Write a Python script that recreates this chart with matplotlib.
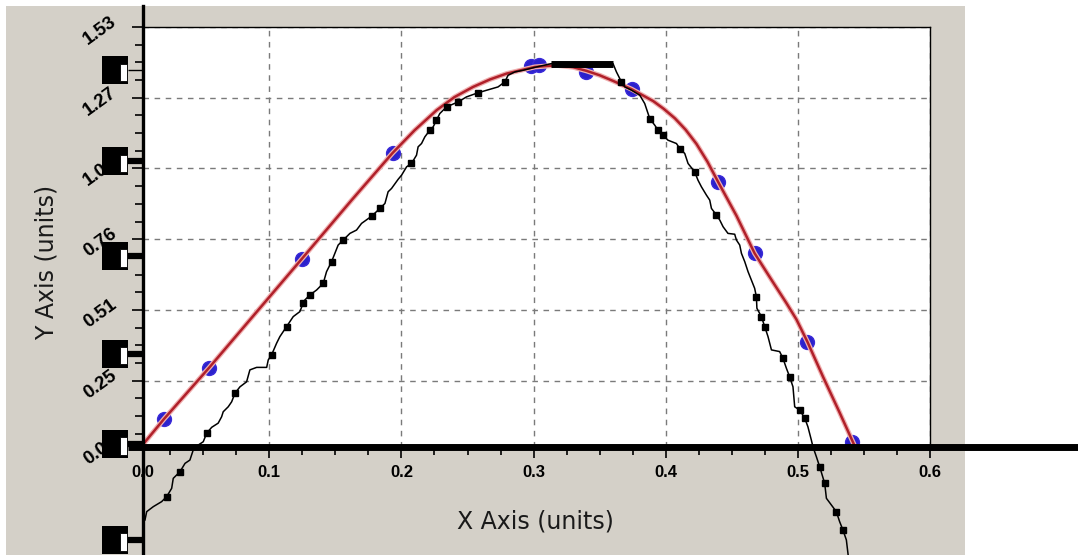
import matplotlib
matplotlib.use("Agg")
import matplotlib.pyplot as plt
import matplotlib.transforms as mtransforms
from matplotlib.patches import Rectangle

# ---------------- data ----------------
x_ticks = [0.0, 0.1, 0.2, 0.3, 0.4, 0.5, 0.6]
x_tick_labels = ["0.0", "0.1", "0.2", "0.3", "0.4", "0.5", "0.6"]
y_ticks = [0.0, 0.255, 0.51, 0.765, 1.02, 1.275, 1.53]
y_tick_labels = ["0.00", "0.25", "0.51", "0.76", "1.02", "1.27", "1.53"]

# smooth fitted curve (red)
fit_x = [0.0, 0.0203, 0.0543, 0.1244, 0.1623, 0.1933, 0.2100, 0.2266, 0.2400, 0.2542,
         0.2670, 0.2795, 0.3009, 0.3173, 0.3300, 0.3400, 0.3500, 0.3600, 0.3741, 0.3905,
         0.3985, 0.4069, 0.4150, 0.4232, 0.4315, 0.4396, 0.4535, 0.4673, 0.4809, 0.4913,
         0.4989, 0.5072, 0.5190, 0.5316, 0.5425]
fit_y = [0.0, 0.117, 0.301, 0.693, 0.906, 1.076, 1.158, 1.230, 1.277, 1.314,
         1.341, 1.362, 1.386, 1.392, 1.385, 1.372, 1.356, 1.336, 1.306, 1.263,
         1.235, 1.201, 1.160, 1.109, 1.045, 0.972, 0.850, 0.714, 0.612, 0.535,
         0.476, 0.3955, 0.2695, 0.140, 0.025]

# sample points (blue)
sample_x = [0.0203, 0.0543, 0.1244, 0.1933, 0.2980, 0.3040, 0.3393, 0.3741,
            0.4396, 0.4673, 0.5072, 0.5412]
sample_y = [0.117, 0.301, 0.693, 1.076, 1.390, 1.392, 1.368, 1.308,
            0.972, 0.714, 0.3955, 0.035]

# measured trace (black)
trace_x = [0.0059, 0.0072, 0.0122, 0.0185, 0.0223, 0.0261, 0.0273, 0.0324, 0.0362, 0.0399,
           0.0424, 0.0462, 0.0500, 0.0526, 0.0564, 0.0613, 0.0639, 0.0651, 0.0689, 0.0715,
           0.0740, 0.0778, 0.0828, 0.0853, 0.0904, 0.0980, 0.0992, 0.1017, 0.1055, 0.1080,
           0.1131, 0.1181, 0.1231, 0.1256, 0.1269, 0.1307, 0.1358, 0.1408, 0.1433, 0.1471,
           0.1496, 0.1521, 0.1559, 0.1610, 0.1660, 0.1698, 0.1774, 0.1837, 0.1875, 0.1899,
           0.1925, 0.1975, 0.2001, 0.2039, 0.2076, 0.2114, 0.2126, 0.2152, 0.2177, 0.2215,
           0.2240, 0.2265, 0.2290, 0.2341, 0.2429, 0.2492, 0.2580, 0.2644, 0.2731, 0.2782,
           0.2807, 0.2858, 0.2921, 0.3022, 0.3135, 0.3601, 0.3627, 0.3665, 0.3690, 0.3741,
           0.3804, 0.3841, 0.3879, 0.3917, 0.3942, 0.3980, 0.4017, 0.4081, 0.4106, 0.4144,
           0.4169, 0.4219, 0.4244, 0.4270, 0.4308, 0.4333, 0.4346, 0.4384, 0.4409, 0.4434,
           0.4471, 0.4522, 0.4535, 0.4560, 0.4573, 0.4598, 0.4623, 0.4648, 0.4673, 0.4686,
           0.4690, 0.4724, 0.4749, 0.4774, 0.4800, 0.4862, 0.4887, 0.4913, 0.4938, 0.4963,
           0.4976, 0.5014, 0.5052, 0.5076, 0.5102, 0.5114, 0.5140, 0.5165, 0.5203, 0.5216,
           0.5253, 0.5291, 0.5316, 0.5341, 0.5367, 0.5379, 0.5392]
trace_y = [-0.247, -0.217, -0.199, -0.181, -0.163, -0.133, -0.097, -0.073, -0.043, -0.031,
           0.005, 0.023, 0.035, 0.066, 0.087, 0.102, 0.125, 0.143, 0.161, 0.179,
           0.210, 0.233, 0.251, 0.294, 0.303, 0.303, 0.330, 0.348, 0.390, 0.414,
           0.450, 0.486, 0.504, 0.534, 0.546, 0.564, 0.582, 0.606, 0.648, 0.684,
           0.714, 0.744, 0.762, 0.786, 0.798, 0.822, 0.848, 0.876, 0.894, 0.936,
           0.948, 0.981, 0.996, 1.026, 1.038, 1.068, 1.098, 1.110, 1.134, 1.158,
           1.170, 1.194, 1.218, 1.242, 1.260, 1.278, 1.293, 1.302, 1.314, 1.332,
           1.356, 1.368, 1.374, 1.386, 1.398, 1.398, 1.368, 1.332, 1.314, 1.302,
           1.284, 1.254, 1.200, 1.176, 1.158, 1.140, 1.122, 1.110, 1.092, 1.074,
           1.038, 1.008, 0.978, 0.954, 0.924, 0.906, 0.876, 0.852, 0.834, 0.810,
           0.786, 0.783, 0.762, 0.744, 0.714, 0.684, 0.648, 0.618, 0.588, 0.558,
           0.516, 0.486, 0.450, 0.414, 0.366, 0.360, 0.336, 0.300, 0.269, 0.233,
           0.161, 0.149, 0.120, 0.089, 0.041, 0.017, -0.019, -0.055, -0.115, -0.169,
           -0.193, -0.217, -0.253, -0.283, -0.319, -0.367, -0.420]

# square markers on the trace
trace_mk_x = [0.0223, 0.0324, 0.0526, 0.0740, 0.1017, 0.1131, 0.1256, 0.1307, 0.1408,
              0.1471, 0.1559, 0.1774, 0.1837, 0.2076, 0.2215, 0.2265, 0.2341, 0.2429,
              0.2580, 0.2782, 0.3665, 0.3879, 0.3942, 0.3980, 0.4106, 0.4219, 0.4384,
              0.4686, 0.4724, 0.4749, 0.4887, 0.4938, 0.5014, 0.5052, 0.5165, 0.5203,
              0.5291, 0.5341]
trace_mk_y = [-0.163, -0.073, 0.066, 0.210, 0.348, 0.450, 0.534, 0.564, 0.606,
              0.684, 0.762, 0.848, 0.876, 1.038, 1.158, 1.194, 1.242, 1.260,
              1.293, 1.332, 1.332, 1.200, 1.158, 1.140, 1.092, 1.008, 0.852,
              0.558, 0.486, 0.450, 0.336, 0.269, 0.149, 0.120, -0.055, -0.115,
              -0.217, -0.283]

# flat plateau of the trace
plateau_x = [0.3135, 0.3601]
plateau_y = [1.398, 1.398]

# secondary (garbled) tick glyphs on the left of the Y axis
aux_tick_y = [1.374, 1.046, 0.704, 0.353, 0.027, -0.319]

# ---------------- styling ----------------
W, H = 1078, 555
GRAY = "#d4d0c8"
X_LO, X_HI = 0.0044, 0.6
Y_LO, Y_HI = 0.016, 1.53
FONT = "Liberation Sans"

fig = plt.figure(figsize=(W / 100, H / 100), dpi=100, facecolor="white")
fig.patches.append(Rectangle((6 / W, 0), (965 - 6) / W, (H - 6) / H,
                             transform=fig.transFigure, facecolor=GRAY,
                             edgecolor="none", zorder=-10))

ax = fig.add_axes([143 / W, 1 - 447 / H, 787 / W, 420 / H])
ax.set_facecolor("white")
ax.set_xlim(X_LO, X_HI)
ax.set_ylim(Y_LO, Y_HI)

for s in ("left", "bottom"):
    ax.spines[s].set_visible(False)
for s in ("top", "right"):
    ax.spines[s].set_linewidth(1.0)
    ax.spines[s].set_color("black")

xt = [max(t, X_LO) for t in x_ticks]
yt = [max(t, Y_LO) for t in y_ticks]
ax.set_xticks(xt)
ax.set_xticklabels(x_tick_labels, fontfamily=FONT, fontweight="bold", fontsize=12)
ax.set_yticks(yt)
ax.set_yticklabels([])
ax.set_xticks([t for t in [i * 0.025 for i in range(25)] if t > X_LO], minor=True)
ax.set_yticks([i * 0.06375 for i in range(1, 24)], minor=True)

ax.tick_params(axis="x", which="major", direction="out", length=8, width=1.2, pad=5)
ax.tick_params(axis="x", which="minor", direction="out", length=6, width=1.2)
ax.tick_params(axis="y", which="major", direction="out", length=8, width=1.2)
ax.tick_params(axis="y", which="minor", direction="out", length=6, width=1.2)

blend = mtransforms.blended_transform_factory(ax.transAxes, ax.transData)
shift = mtransforms.ScaledTranslation(0, -3.5 / 100, fig.dpi_scale_trans)
for yv, lab in zip(yt, y_tick_labels):
    ax.text(-0.0546, yv, lab, transform=blend + shift, rotation=36,
            ha="center", va="center", fontfamily=FONT, fontweight="bold",
            fontsize=13.5, clip_on=False, zorder=6.5)

ax.grid(True, which="major", linestyle=(0, (4, 4)), color="#7a7a7a", linewidth=1.0)
ax.set_axisbelow(True)

# blue samples below the red fitted curve (with soft halo)
ax.plot(sample_x, sample_y, linestyle="none", marker="o", markersize=10,
        markerfacecolor="#2b22cc", markeredgecolor="#3a2ad8", zorder=3)
ax.plot(fit_x, fit_y, color="#f0b0b0", linewidth=3.6, zorder=4, solid_capstyle="round")
ax.plot(fit_x, fit_y, color="#b0202a", linewidth=1.8, zorder=4.1)

# black trace
ax.plot(trace_x, trace_y, color="black", linewidth=1.1, zorder=5, clip_on=False)
ax.plot(trace_mk_x, trace_mk_y, linestyle="none", marker="s", markersize=4.5,
        color="black", zorder=5, clip_on=False)
ax.plot(plateau_x, plateau_y, color="black", linewidth=5, solid_capstyle="butt",
        zorder=5, clip_on=False)

# axis lines extending beyond the plot frame
ax.plot([0, 0], [(447 - 560) / 420, (447 - 6) / 420], transform=ax.transAxes,
        color="black", linewidth=2.4, clip_on=False, zorder=6)
ax.plot([(128 - 143) / 787, (1080 - 143) / 787], [0, 0], transform=ax.transAxes,
        color="black", linewidth=5, clip_on=False, zorder=6, solid_capstyle="butt")

# garbled secondary tick glyphs
bh = 28 / 277.6
for i, yv in enumerate(aux_tick_y):
    ax.add_patch(Rectangle((-0.0520, yv - bh / 2), 0.0330, bh, transform=blend,
                           facecolor="black", edgecolor="none", clip_on=False, zorder=7))
    ax.add_patch(Rectangle((-0.0292, yv - bh * 0.38), 0.0089, bh * 0.62, transform=blend,
                           facecolor="white", edgecolor="black", linewidth=0.6,
                           clip_on=False, zorder=7.1))
    ax.plot([-0.019, 0], [yv, yv], transform=blend, color="black",
            linewidth=1.0 if i == 0 else 4.5, clip_on=False, zorder=7,
            solid_capstyle="butt")

fig.text(535 / W, 1 - 522 / H, "X Axis (units)", ha="center", va="center",
         fontsize=17, fontfamily="DejaVu Sans", color="#1a1a1a")
fig.text(47 / W, 1 - 262 / H, "Y Axis (units)", ha="center", va="center",
         rotation=90, fontsize=17, fontfamily="DejaVu Sans", color="#1a1a1a")

fig.savefig("out.png", dpi=100, facecolor=fig.get_facecolor())
